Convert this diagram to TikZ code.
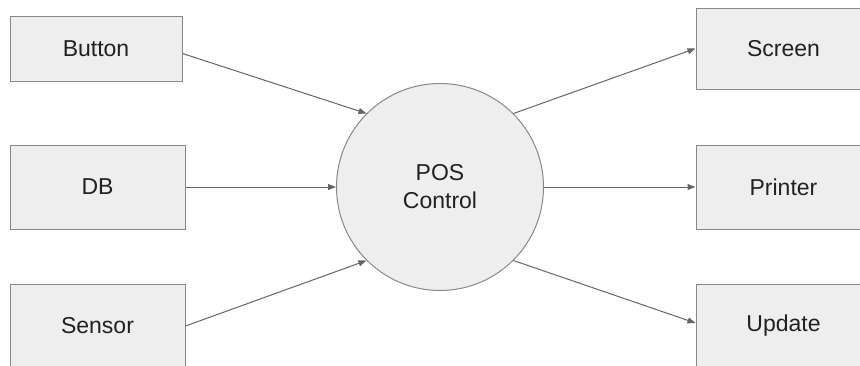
\documentclass[tikz,border=0pt]{standalone}
\usepackage{fontspec}
\setmainfont{Liberation Sans}
\usetikzlibrary{arrows.meta}

\definecolor{boxfill}{HTML}{EEEEEE}
\definecolor{boxline}{HTML}{888888}
\definecolor{linkline}{HTML}{666666}

\begin{document}
\begin{tikzpicture}[x=1pt,y=-1pt,
    box/.style={draw=boxline,fill=boxfill,line width=1pt,inner sep=0pt,
      font=\fontsize{23}{28}\selectfont,text=black!87},
    hub/.style={circle,draw=boxline,fill=boxfill,line width=1pt,minimum size=207pt,
      inner sep=0pt,align=center,font=\fontsize{23}{28}\selectfont,text=black!87},
    link/.style={draw=linkline,line width=1pt,-{Triangle[length=8pt,width=6pt]}}]
  \useasboundingbox (0,0) rectangle (860,365);
  \clip (0,0) rectangle (860,365);
  % inputs
  \node[box,minimum width=172pt,minimum height=65pt] (button) at (96,48.5) {Button};
  \node[box,minimum width=175pt,minimum height=84pt] (db) at (97.5,187) {DB};
  \node[box,minimum width=175pt,minimum height=84pt] (sensor) at (97.5,326) {Sensor};
  % control
  \node[hub] (pos) at (440,187) {POS\\Control};
  % outputs
  \node[box,minimum width=175pt,minimum height=81pt] (screen) at (783.5,48.5) {Screen};
  \node[box,minimum width=175pt,minimum height=84pt] (printer) at (783.5,187) {Printer};
  \node[box,minimum width=175pt,minimum height=84pt] (update) at (783.5,326) {Update};
  % links
  \draw[link] ([yshift=-5pt]button.east) -- (pos.135);
  \draw[link] (db.east) -- (pos.west);
  \draw[link] (sensor.east) -- (pos.225);
  \draw[link] (pos.45) -- (screen.west);
  \draw[link] (pos.east) -- (printer.west);
  \draw[link] (pos.-45) -- ([yshift=3pt]update.west);
\end{tikzpicture}
\end{document}
